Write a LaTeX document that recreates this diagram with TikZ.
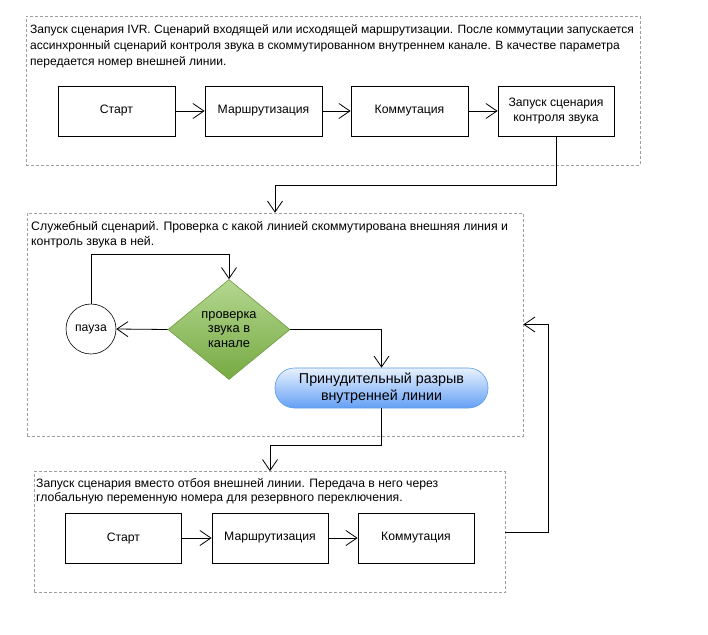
\documentclass[tikz,border=0pt]{standalone}
\usepackage{fontspec}
\setmainfont{Liberation Sans}
\usetikzlibrary{arrows.meta,shapes.geometric,calc}
\begin{document}
\begin{tikzpicture}[x=1pt,y=-1pt,
  font=\fontsize{12.2}{15.5}\selectfont,
  grp/.style={draw=gray!75,dash pattern=on 3pt off 2pt,line width=0.6pt,inner sep=0pt},
  stepbox/.style={draw=black,line width=0.8pt,minimum width=116pt,minimum height=50pt,align=center,inner sep=0pt},
  conn/.style={draw=black,line width=0.8pt,-{Straight Barb[length=11pt,width=15pt,line width=0.8pt]}},
  hdr/.style={anchor=north west,align=left,inner sep=0pt}
]
\useasboundingbox (0,0) rectangle (708,634);
\fill[white] (0,0) rectangle (708,634);

% groups
\node[grp,minimum width=614pt,minimum height=149pt] (g1) at (333,90.5) {};
\node[grp,minimum width=496pt,minimum height=223pt] (g2) at (275,324.5) {};
\node[grp,minimum width=471pt,minimum height=121pt] (g3) at (269.5,532) {};

\node[hdr,font=\fontsize{12.05}{15.7}\selectfont] (t1) at (30,24.5) {Запуск сценария IVR. Сценарий входящей или исходящей маршрутизации. После коммутации запускается\\ассинхронный сценарий контроля звука в скоммутированном внутреннем канале. В качестве параметра\\передается номер внешней линии.};
\node[hdr,font=\fontsize{12.3}{15}\selectfont] (t2) at (31,221) {Служебный сценарий. Проверка с какой линией скоммутирована внешняя линия и\\контроль звука в ней.};
\node[hdr,font=\fontsize{12.2}{14.5}\selectfont] (t3) at (36,478) {Запуск сценария вместо отбоя внешней линии. Передача в него через\\глобальную переменную номера для резервного переключения.};

% group 1 steps
\node[stepbox,minimum width=117pt] (s1) at (116.5,111) {Старт};
\node[stepbox,minimum width=117pt] (m1) at (263.5,111) {Маршрутизация};
\node[stepbox,minimum width=117pt] (k1) at (409.5,111) {Коммутация};
\node[stepbox] (z1) at (556,111) {Запуск сценария\\контроля звука};

% group 2
\node[draw=black,line width=0.6pt,circle,minimum size=50pt,inner sep=0pt] (p) at (91,329) {пауза};
\node[diamond,aspect=1.22,minimum width=122pt,minimum height=100pt,inner sep=0pt,
  draw={rgb,255:red,110;green,155;blue,60},line width=0.6pt,
  top color={rgb,255:red,180;green,215;blue,145},bottom color={rgb,255:red,118;green,170;blue,66},
  align=center,font=\fontsize{12.8}{14.5}\selectfont] (d) at (229,329.5) {проверка\\звука в\\канале};
\node[rectangle,rounded corners=19.5pt,minimum width=213pt,minimum height=40pt,inner sep=0pt,
  draw={rgb,255:red,90;green,155;blue,232},line width=0.6pt,
  top color={rgb,255:red,232;green,241;blue,253},bottom color={rgb,255:red,100;green,160;blue,245},
  align=center,font=\fontsize{14.3}{17}\selectfont] (r) at (381.5,388) {Принудительный разрыв\\внутренней линии};

% group 3 steps
\node[stepbox] (s3) at (123.5,538) {Старт};
\node[stepbox] (m3) at (270,538) {Маршрутизация};
\node[stepbox] (k3) at (416,538) {Коммутация};

% connectors
\draw[conn] (s1) -- (m1);
\draw[conn] (m1) -- (k1);
\draw[conn] (k1) -- (z1);
\coordinate (c1) at (556,185);
\coordinate (c2) at (275,185);
\draw[conn] (z1.south) -- (c1) -- (c2) -- (c2 |- g2.north);
\coordinate (c3) at (91,254);
\draw[conn] (p.north) -- (c3) -| (d.north);
\draw[conn] (d.west) -- (p.east);
\draw[conn] (d.east) -| (r.north);
\coordinate (c4) at (381.5,445);
\coordinate (c5) at (270,445);
\draw[conn] (r.south) -- (c4) -- (c5) -- (c5 |- g3.north);
\coordinate (c6) at (548,532);
\draw[conn] (g3.east) -- (c6) |- (g2.east);
\draw[conn] (s3) -- (m3);
\draw[conn] (m3) -- (k3);
\end{tikzpicture}
\end{document}
